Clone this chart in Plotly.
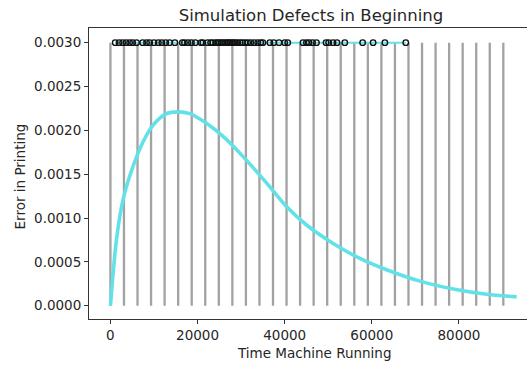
import plotly.graph_objects as go

# --- data ---
vline_x = [0, 3110, 6220, 9330, 12440, 15550, 18660, 21770, 24880, 27990,
           31100, 34210, 37320, 40430, 43540, 46650, 49760, 52870, 55980, 59090,
           62200, 65310, 68420, 71530, 74640, 77750, 80860, 83970, 87080, 90190]
vline_top = 0.003

curve_x = [0, 1380, 2900, 5200, 7500, 9800, 12860, 15530, 18210, 22050, 25860,
           30460, 35830, 40420, 45010, 51130, 57260, 63390, 71040, 78690, 86360, 93250]
curve_y = [0.0, 0.00075, 0.00121, 0.00159, 0.00187, 0.00206, 0.00219, 0.00221,
           0.00219, 0.00208, 0.00193, 0.00170, 0.00140, 0.00113, 0.00092, 0.00071,
           0.00054, 0.00041, 0.00028, 0.00019, 0.00013, 0.00010]

rug_x = [1100, 2000, 2800, 3600, 4400, 5100, 6000, 7400, 8300, 9000, 10000, 11000,
         11800, 12700, 13600, 14800, 16500, 17000, 17800, 18600, 19500, 20800, 21200,
         22300, 23000, 23500, 24200, 24600, 25000, 25500, 25900, 26400, 26800, 27100,
         27500, 27900, 28300, 28700, 29200, 29800, 30300, 30900, 31500, 32200, 33000,
         33800, 34500, 35000, 36600, 37500, 38700, 40000, 40700, 44200, 45000, 45600,
         46400, 47300, 49500, 50100, 51100, 52000, 53800, 57900, 60300, 63000, 67800]
rug_y = 0.003

y_ticks = [0.0, 0.0005, 0.001, 0.0015, 0.002, 0.0025, 0.003]
x_ticks = [0, 20000, 40000, 60000, 80000]

title = "Simulation Defects in Beginning"
x_label = "Time Machine Running"
y_label = "Error in Printing"

# --- build figure ---
vx, vy = [], []
for x in vline_x:
    vx += [x, x, None]
    vy += [0, vline_top, None]

FONT = "DejaVu Sans"
CYAN = "#62e2e8"

fig = go.Figure()
fig.add_trace(go.Scatter(x=vx, y=vy, mode="lines",
                         line=dict(color="#a2a2a2", width=2.3), hoverinfo="skip"))
fig.add_trace(go.Scatter(x=curve_x, y=curve_y, mode="lines",
                         line=dict(color=CYAN, width=3.6, shape="spline", smoothing=0.8)))
fig.add_trace(go.Scatter(x=rug_x, y=[rug_y] * len(rug_x), mode="lines",
                         line=dict(color=CYAN, width=2)))
fig.add_trace(go.Scatter(x=rug_x, y=[rug_y] * len(rug_x), mode="markers",
                         marker=dict(symbol="circle-open", size=5.5, color="#111111",
                                     line=dict(width=1.4))))

axis_common = dict(showgrid=False, zeroline=False, showline=True, linecolor="#333333",
                   linewidth=1, mirror=True, ticks="outside", ticklen=4, tickwidth=1,
                   tickcolor="#333333",
                   tickfont=dict(family=FONT, size=13.5, color="#262626"))

fig.update_layout(
    width=527, height=365,
    margin=dict(l=89, r=0, t=28, b=46),
    paper_bgcolor="white", plot_bgcolor="white",
    showlegend=False,
    font=dict(family=FONT, color="#262626"),
    title=dict(text=title, x=311 / 527, xanchor="center", xref="container",
               y=1 - 15 / 365, yanchor="middle", yref="container",
               font=dict(family=FONT, size=16.5, color="#262626")),
    xaxis=dict(range=[-4916, 95626], tickvals=x_ticks, tickformat="d", **axis_common),
    yaxis=dict(range=[-0.000152, 0.003167], tickvals=y_ticks, tickformat=".4f",
               **axis_common),
    annotations=[
        dict(text=x_label, xref="paper", yref="paper", x=(314 - 89) / 438, y=0,
             yanchor="middle", xanchor="center", yshift=-34, showarrow=False,
             font=dict(family=FONT, size=13.5, color="#262626")),
        dict(text=y_label, xref="paper", yref="paper", x=0, y=0.49, xshift=-69,
             xanchor="center", yanchor="middle", textangle=-90, showarrow=False,
             font=dict(family=FONT, size=13.5, color="#262626")),
    ],
)

fig.write_html("out.html", config={"displayModeBar": False},
               post_script="document.body.style.margin='0';document.body.style.padding='0';"
                           "document.body.style.overflow='hidden';")
